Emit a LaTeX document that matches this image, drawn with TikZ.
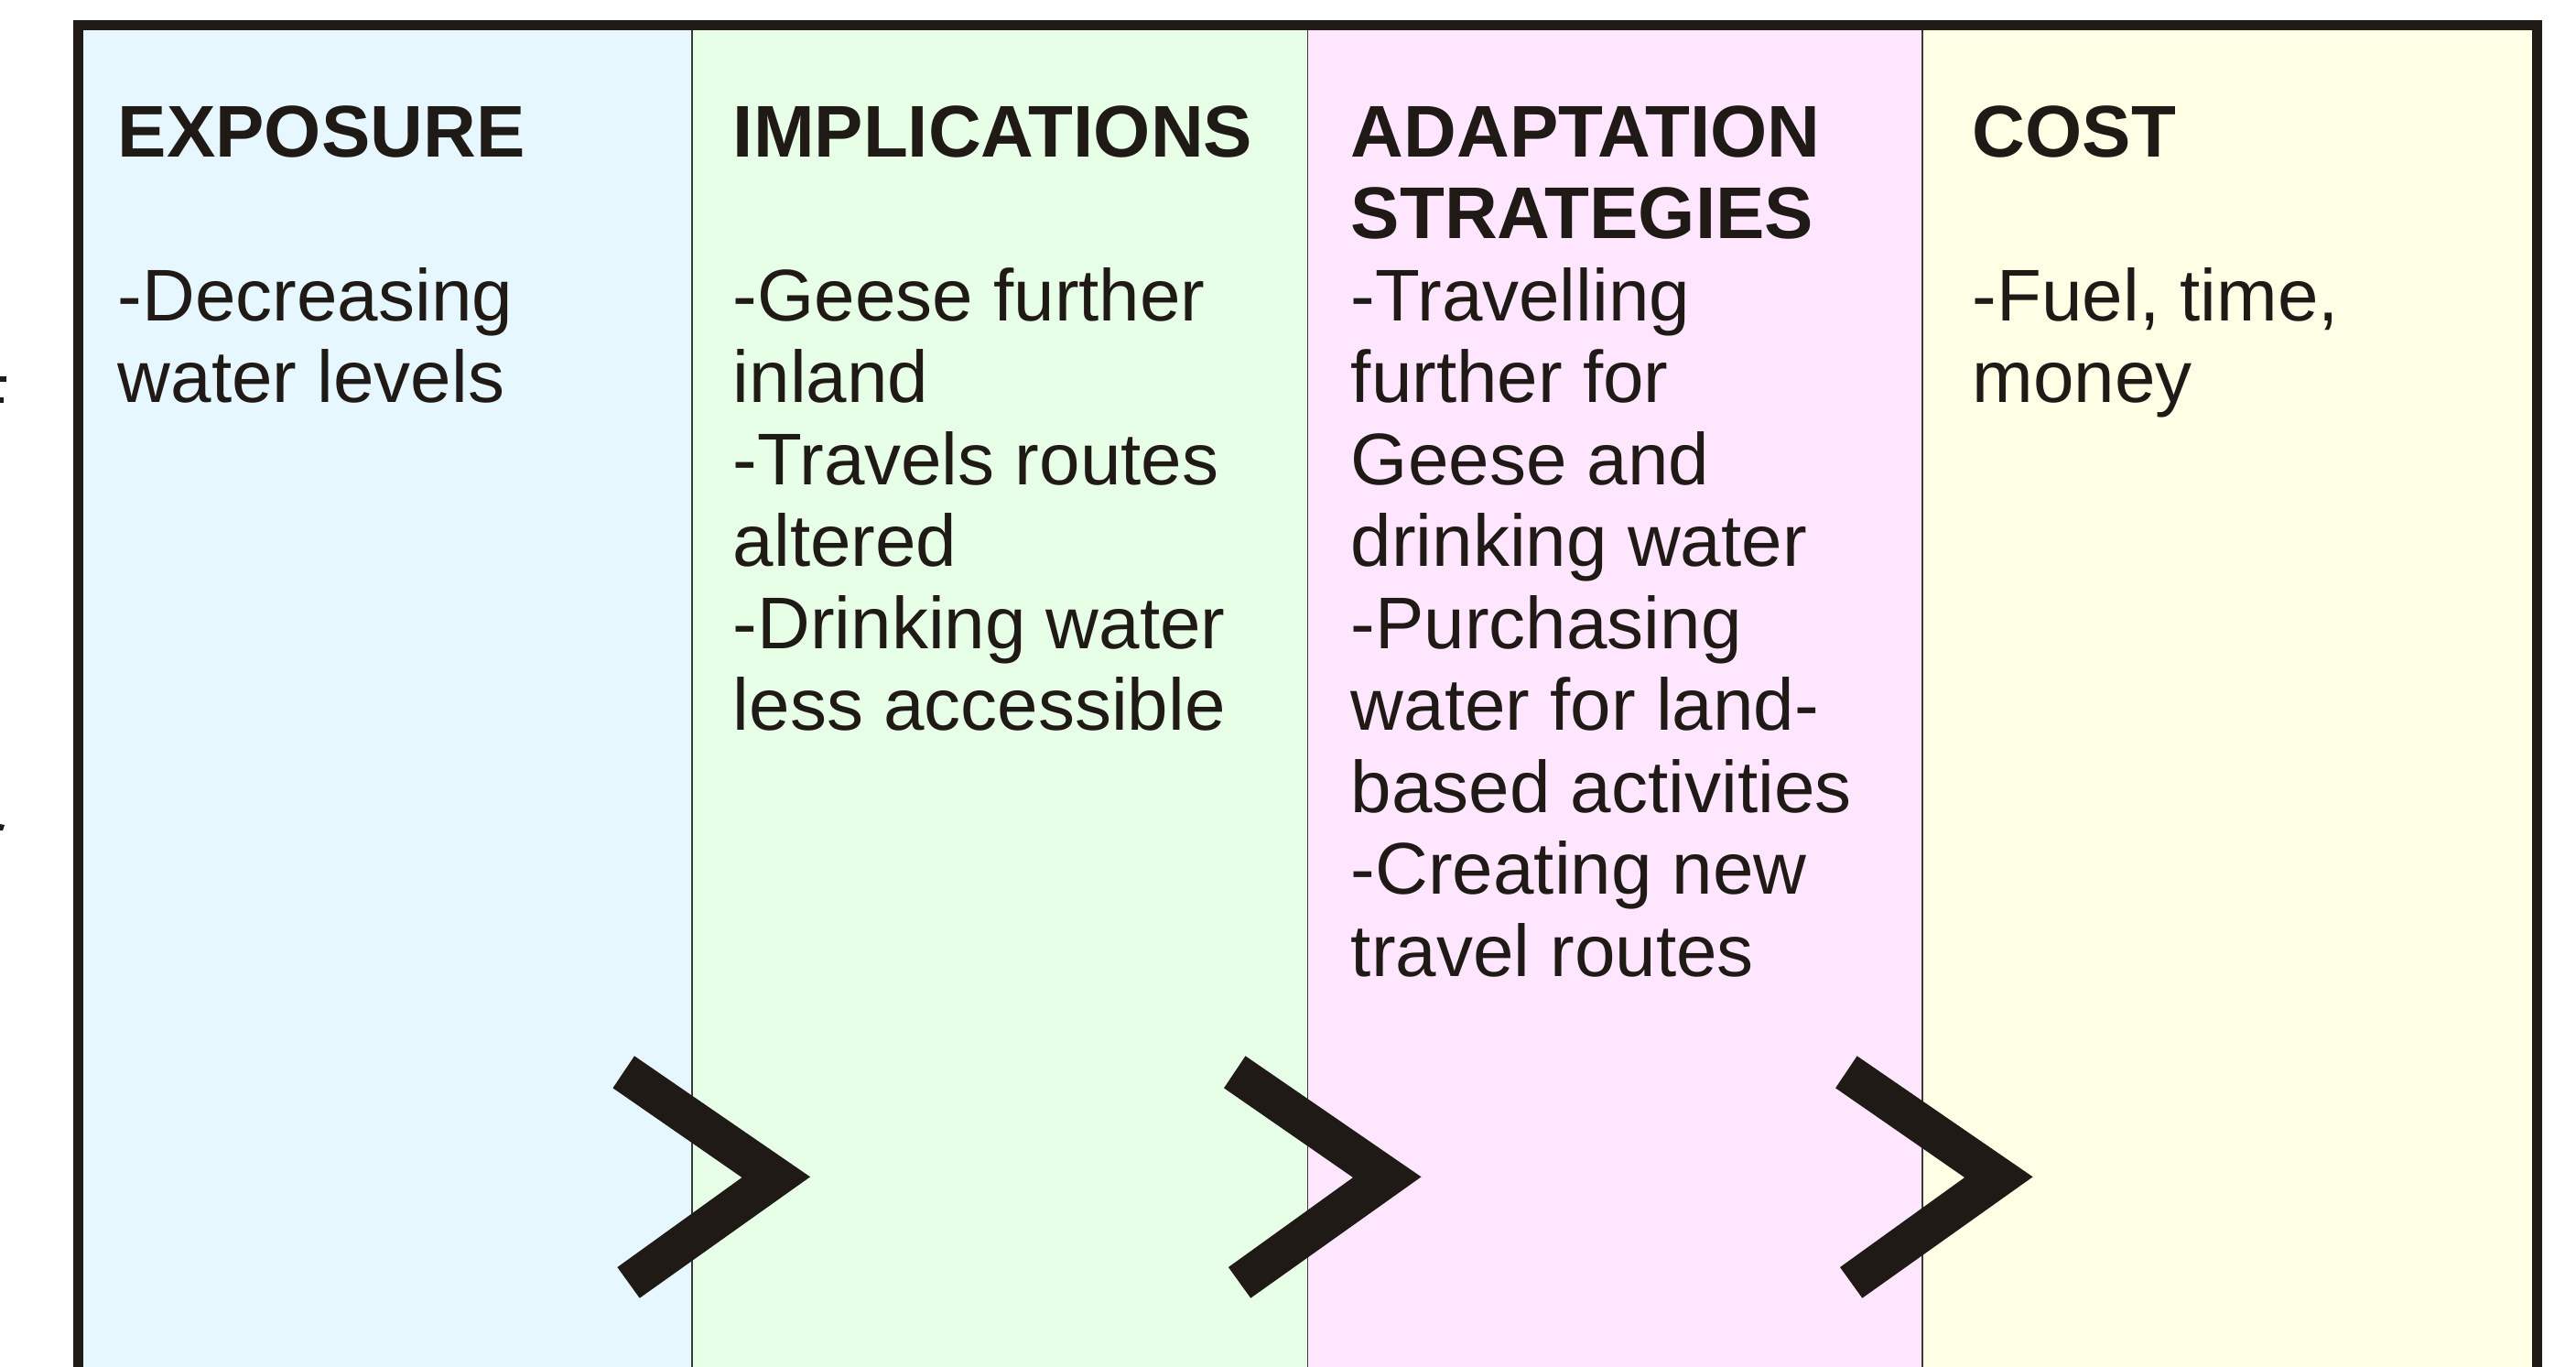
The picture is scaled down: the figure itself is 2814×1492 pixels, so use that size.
\documentclass[tikz,border=0pt]{standalone}
\usepackage{fontspec}
\setmainfont{Liberation Sans}
\definecolor{ink}{RGB}{32,26,23}
\definecolor{rule}{RGB}{58,58,58}
\definecolor{colexp}{RGB}{230,247,255}
\definecolor{colimp}{RGB}{230,255,230}
\definecolor{coladp}{RGB}{255,230,255}
\definecolor{colcst}{RGB}{255,255,230}
\newcommand{\colfont}{\fontsize{20pt}{22.375pt}\selectfont}
\newcommand{\coltext}[1]{\parbox[t]{170pt}{\raggedright\colfont #1}}
\tikzset{
  head/.style={anchor=base west, inner sep=0pt, text=ink, font=\bfseries},
  body/.style={anchor=base west, inner sep=0pt, text=ink},
  divider/.style={draw=rule, line width=0.4pt},
  frame/.style={draw=ink, line width=2.65pt, line join=miter},
  chev/.pic={
    \fill[ink] (23.5,1153.3) -- (215.5,1285.3) -- (29.2,1417.7) -- (4.9,1384)
      -- (141,1286) -- (0,1188.3) -- cycle;
  }
}
\begin{document}
\begin{tikzpicture}[x=0.25pt, y=-0.25pt]
\useasboundingbox (0,0) rectangle (2814,1492);
\begin{scope}
  \clip (0,0) rectangle (2814,1492);
  \fill[white] (0,0) rectangle (2814,1492);
  % four coloured columns
  \fill[colexp] (85.5,27.7) rectangle (756,1510);
  \fill[colimp] (756,27.7) rectangle (1428.5,1510);
  \fill[coladp] (1428.5,27.7) rectangle (2100,1510);
  \fill[colcst] (2100,27.7) rectangle (2771.5,1510);
  % thin separators between columns
  \draw[divider] (756,27.7) -- (756,1510);
  \draw[divider] (1428.5,27.7) -- (1428.5,1510);
  \draw[divider] (2100,27.7) -- (2100,1510);
  % chevrons pointing to the next stage
  \pic at (669.5,0) {chev};
  \pic at (1337,0) {chev};
  \pic at (2005.1,0) {chev};
  % heavy outer frame, open below
  \draw[frame] (85.5,1520) -- (85.5,27.7) -- (2771.5,27.7) -- (2771.5,1520);
  % clipped fragments in the left margin
  \fill[ink] (0,411) rectangle (7,417);
  \fill[ink] (0,434) rectangle (4,440);
  \fill[ink] (0,900) -- (5,901) -- (3,907) -- (0,907) -- cycle;
\end{scope}
% headings
\node[head] (hexp) at (128,171) {\coltext{EXPOSURE}};
\node[head] (himp) at (800,171) {\coltext{IMPLICATIONS}};
\node[head] (hadp) at (1475,171) {\coltext{ADAPTATION\\STRATEGIES}};
\node[head] (hcst) at (2154,171) {\coltext{COST}};
% column contents
\node[body] (bexp) at (128,350) {\coltext{-Decreasing\\water levels}};
\node[body] (bimp) at (800,350) {\coltext{-Geese further\\inland\\-Travels routes\\altered\\-Drinking water\\less accessible}};
\node[body] (badp) at (1475,350) {\coltext{-Travelling\\further for\\Geese and\\drinking water\\-Purchasing\\water for land-\\based activities\\-Creating new\\travel routes}};
\node[body] (bcst) at (2154,350) {\coltext{-Fuel, time,\\money}};
\end{tikzpicture}
\end{document}
